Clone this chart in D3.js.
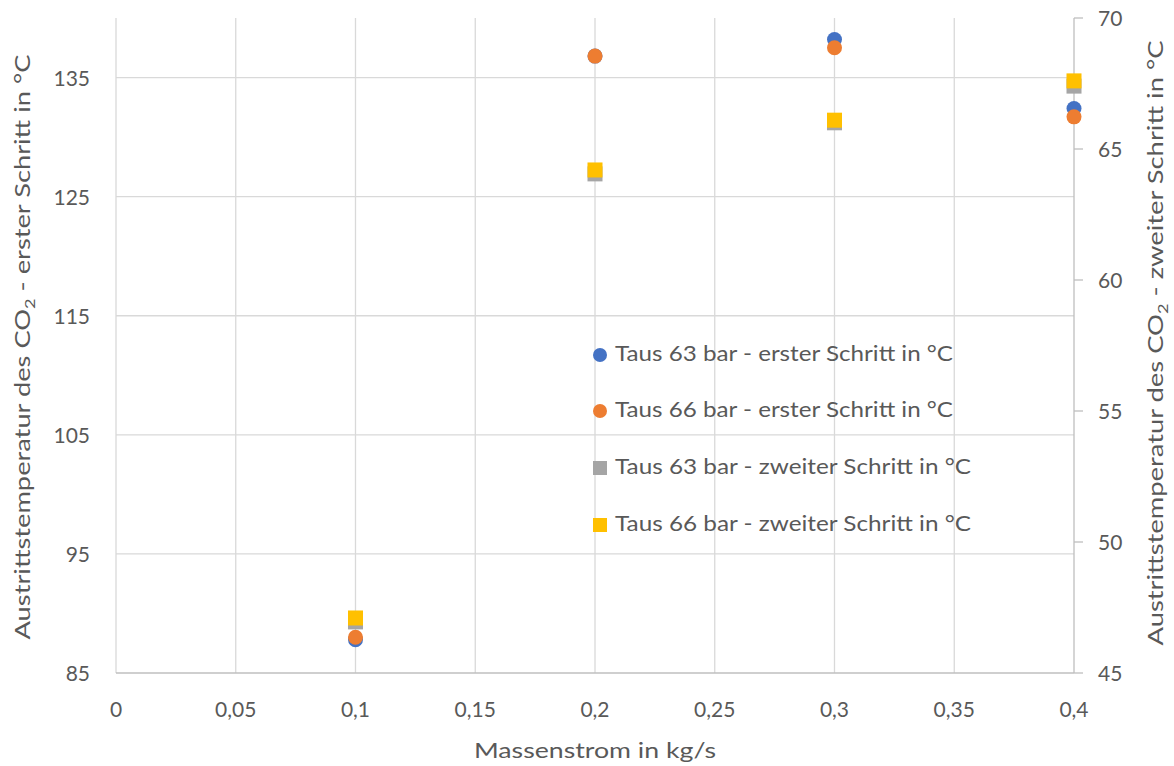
<!DOCTYPE html>
<html><head><meta charset="utf-8">
<script src="https://cdn.jsdelivr.net/npm/d3@7"></script>
<style>
html,body{margin:0;padding:0;background:#fff;}
svg{display:block;font-family:Lato,"Open Sans",sans-serif;}
</style></head>
<body>
<svg id="chart" width="1174" height="766"></svg>
<script>
const massflow = [0.1, 0.2, 0.3, 0.4];
const taus63Erster = [87.8, 136.8, 138.2, 132.4];
const taus66Erster = [88.0, 136.8, 137.5, 131.7];
const taus63Zweiter = [46.95, 64.05, 66.0, 67.4];
const taus66Zweiter = [47.1, 64.2, 66.1, 67.6];
const seriesNames = [
  "Taus 63 bar - erster Schritt in °C",
  "Taus 66 bar - erster Schritt in °C",
  "Taus 63 bar - zweiter Schritt in °C",
  "Taus 66 bar - zweiter Schritt in °C"
];
const xTicks = [0, 0.05, 0.1, 0.15, 0.2, 0.25, 0.3, 0.35, 0.4];
const yLeftTicks = [85, 95, 105, 115, 125, 135];
const yRightTicks = [45, 50, 55, 60, 65, 70];

const colors = ["#4472C4", "#ED7D31", "#A5A5A5", "#FFC000"];
const svg = d3.select("#chart");
const L = 116, R = 1074, T = 18, B = 673;
const x = d3.scaleLinear().domain([0, 0.4]).range([L, R]);
const yL = d3.scaleLinear().domain([85, 140]).range([B, T]);
const yR = d3.scaleLinear().domain([45, 70]).range([B, T]);
const fmt = v => String(+v.toFixed(2)).replace(".", ",");

// gridlines
svg.append("g").selectAll("line").data(xTicks.slice(1, -1)).join("line")
  .attr("x1", d => x(d)).attr("x2", d => x(d)).attr("y1", T).attr("y2", B)
  .attr("stroke", "#d9d9d9").attr("stroke-width", 1.3);
svg.append("g").selectAll("line").data(yLeftTicks.slice(1)).join("line")
  .attr("x1", L).attr("x2", R).attr("y1", d => yL(d)).attr("y2", d => yL(d))
  .attr("stroke", "#d9d9d9").attr("stroke-width", 1.3);

// axes lines
const axisCol = "#bfbfbf";
svg.append("line").attr("x1", L).attr("x2", L).attr("y1", T).attr("y2", B).attr("stroke", "#d9d9d9").attr("stroke-width", 1.3);
svg.append("line").attr("x1", L).attr("x2", R).attr("y1", B).attr("y2", B).attr("stroke", axisCol).attr("stroke-width", 1.3);
svg.append("line").attr("x1", R).attr("x2", R).attr("y1", T).attr("y2", B).attr("stroke", axisCol).attr("stroke-width", 1.3);
svg.append("g").selectAll("line").data(yRightTicks).join("line")
  .attr("x1", R).attr("x2", R + 9).attr("y1", d => yR(d)).attr("y2", d => yR(d))
  .attr("stroke", axisCol).attr("stroke-width", 1.3);

const tickCol = "#595959";
svg.append("g").selectAll("text").data(xTicks).join("text")
  .attr("x", d => x(d)).attr("y", 717).attr("text-anchor", "middle")
  .attr("font-size", 21).attr("fill", tickCol).text(fmt);
svg.append("g").selectAll("text").data(yLeftTicks).join("text")
  .attr("x", 90).attr("y", d => yL(d) + 8).attr("text-anchor", "end")
  .attr("font-size", 21).attr("fill", tickCol).text(d => d);
svg.append("g").selectAll("text").data(yRightTicks).join("text")
  .attr("x", 1098).attr("y", d => yR(d) + 8).attr("text-anchor", "start")
  .attr("font-size", 21).attr("fill", tickCol).text(d => d);

// axis titles
svg.append("text").attr("x", (L + R) / 2).attr("y", 758).attr("text-anchor", "middle")
  .attr("font-size", 21).attr("fill", tickCol)
  .attr("textLength", 242).attr("lengthAdjust", "spacingAndGlyphs")
  .text("Massenstrom in kg/s");
function yTitle(cx, cy, len, pre, post) {
  const t = svg.append("text").attr("transform", `translate(${cx},${cy}) rotate(-90)`)
    .attr("text-anchor", "middle").attr("font-size", 21).attr("fill", tickCol)
    .attr("textLength", len).attr("lengthAdjust", "spacingAndGlyphs");
  t.append("tspan").text(pre);
  t.append("tspan").attr("font-size", 14).attr("dy", 5).text("2");
  t.append("tspan").attr("dy", -5).text(post);
}
yTitle(30, 347, 585, "Austrittstemperatur des CO", " - erster Schritt in °C");
yTitle(1163, 343, 605, "Austrittstemperatur des CO", " - zweiter Schritt in °C");

// data
const series = [
  {vals: taus63Erster, scale: yL, shape: "circle"},
  {vals: taus66Erster, scale: yL, shape: "circle"},
  {vals: taus63Zweiter, scale: yR, shape: "square"},
  {vals: taus66Zweiter, scale: yR, shape: "square"}
];
series.forEach((s, i) => {
  const g = svg.append("g");
  const pts = massflow.map((m, j) => ({m, v: s.vals[j]}));
  if (s.shape === "circle") {
    g.selectAll("circle").data(pts).join("circle")
      .attr("cx", d => x(d.m)).attr("cy", d => s.scale(d.v)).attr("r", 7.5).attr("fill", colors[i]);
  } else {
    g.selectAll("rect").data(pts).join("rect")
      .attr("x", d => x(d.m) - 7.5).attr("y", d => s.scale(d.v) - 7.5)
      .attr("width", 15).attr("height", 15).attr("fill", colors[i]);
  }
});

// legend
const legBase = [361, 417, 474, 531];
const legLen = [338, 338, 356, 356];
const lg = svg.append("g");
seriesNames.forEach((n, i) => {
  const cy = legBase[i] - 6;
  if (i < 2) lg.append("circle").attr("cx", 600).attr("cy", cy).attr("r", 7).attr("fill", colors[i]);
  else lg.append("rect").attr("x", 593).attr("y", cy - 7).attr("width", 14).attr("height", 14).attr("fill", colors[i]);
  lg.append("text").attr("x", 615).attr("y", legBase[i]).attr("font-size", 21).attr("fill", tickCol)
    .attr("textLength", legLen[i]).attr("lengthAdjust", "spacingAndGlyphs").text(n);
});
</script>
</body></html>
